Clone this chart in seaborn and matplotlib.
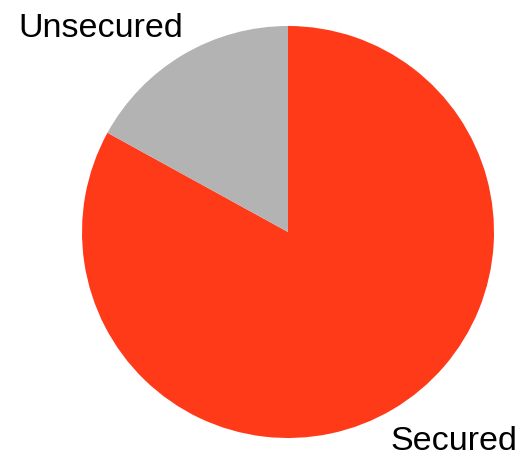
import matplotlib
matplotlib.use("Agg")
import matplotlib.pyplot as plt
import seaborn as sns

categories = ["Secured", "Unsecured"]
values = [83, 17]
colors = ["#FF3A18", "#B3B3B3"]

sns.set_theme(style="white")
plt.rcParams['font.family'] = ['Liberation Sans', 'DejaVu Sans']

fig = plt.figure(figsize=(5.23, 4.55), dpi=100)
ax = fig.add_axes([0, 0, 1, 1])
ax.pie(values, colors=colors, startangle=90, counterclock=False,
       radius=1, center=(0, 0), wedgeprops=dict(linewidth=0))
ax.set_aspect('auto')
ax.set_xlim(-288 / 206, (523 - 288) / 206)
ax.set_ylim(-(455 - 232) / 206, 232 / 206)
ax.axis('off')

ax.text(-1.311, 0.947, categories[1], fontsize=24.5, ha='left', va='baseline', color='black')
ax.text(0.495, -1.058, categories[0], fontsize=24.5, ha='left', va='baseline', color='black')

fig.savefig("out.png", dpi=100)
